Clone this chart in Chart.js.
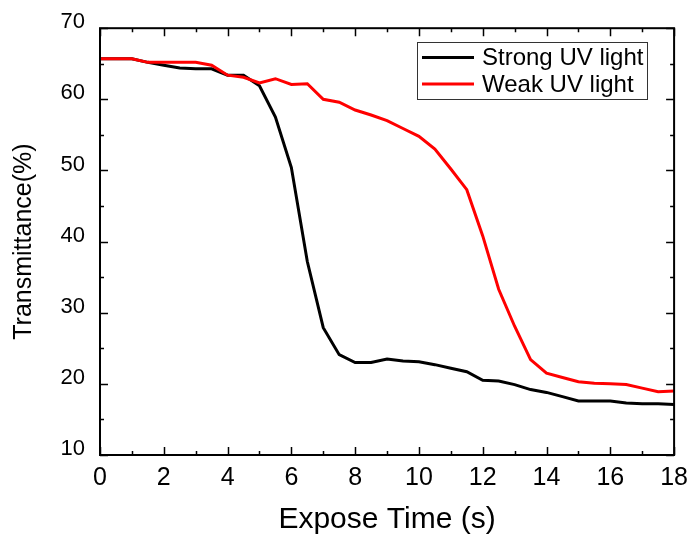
<!DOCTYPE html>
<html>
<head>
<meta charset="utf-8">
<script src="https://cdn.jsdelivr.net/npm/chart.js@4"></script>
<style>
  html, body { margin: 0; padding: 0; background: #fff; }
  #wrap { width: 696px; height: 536px; }
</style>
</head>
<body>
<div id="wrap"><canvas id="chart" width="696" height="536"></canvas></div>
<script>
// exposure times (s)
const times = [0, 0.5, 1, 1.5, 2, 2.5, 3, 3.5, 4, 4.5, 5, 5.5, 6, 6.5, 7, 7.5, 8, 8.5, 9,
    9.5, 10, 10.5, 11, 11.5, 12, 12.5, 13, 13.5, 14, 14.5, 15, 15.5, 16, 16.5, 17, 17.5, 18];

const strongUV = [65.7, 65.7, 65.7, 65.2, 64.8, 64.4, 64.3, 64.3, 63.4, 63.4, 61.9, 57.5, 50.4, 37.2, 27.9, 24.1, 23.0, 23.0, 23.5,
    23.2, 23.1, 22.7, 22.2, 21.7, 20.5, 20.4, 19.9, 19.2, 18.8, 18.2, 17.6, 17.6, 17.6, 17.3, 17.2, 17.2, 17.1];

const weakUV = [65.7, 65.7, 65.7, 65.2, 65.2, 65.2, 65.2, 64.8, 63.4, 63.1, 62.3, 62.9, 62.1, 62.2, 60.0, 59.6, 58.5, 57.8, 57.0,
    55.9, 54.8, 53.0, 50.2, 47.3, 40.8, 33.3, 28.1, 23.4, 21.5, 20.9, 20.3, 20.1, 20.0, 19.9, 19.4, 18.9, 19.0];

const seriesNames = ["Strong UV light", "Weak UV light"];
const seriesColors = ["#000000", "#ff0000"];

const xMajor = 2, xMinor = 1;
const yMajor = 10, yMinor = 5;

const FONT = "'Liberation Sans', Arial, sans-serif";

function toPoints(values) {
    return times.map((t, i) => ({ x: t, y: values[i] }));
}

// frame, inward ticks on all four sides, and the boxed legend
const framePlugin = {
    id: 'frame',
    afterDraw(chart) {
        const ctx = chart.ctx;
        const area = chart.chartArea;
        const xs = chart.scales.x;
        const ys = chart.scales.y;

        ctx.save();
        ctx.strokeStyle = '#000';
        ctx.lineWidth = 2;
        ctx.strokeRect(area.left, area.top, area.right - area.left, area.bottom - area.top);

        ctx.lineWidth = 1.5;
        ctx.beginPath();
        for (let v = xs.min; v <= xs.max; v += xMinor) {
            const px = Math.round(xs.getPixelForValue(v)) + 0.5;
            const len = (v % xMajor === 0) ? 8 : 4;
            ctx.moveTo(px, area.bottom);
            ctx.lineTo(px, area.bottom - len);
            ctx.moveTo(px, area.top);
            ctx.lineTo(px, area.top + len);
        }
        for (let v = ys.min; v <= ys.max; v += yMinor) {
            const py = Math.round(ys.getPixelForValue(v)) + 0.5;
            const len = (v % yMajor === 0) ? 8 : 4;
            ctx.moveTo(area.left, py);
            ctx.lineTo(area.left + len, py);
            ctx.moveTo(area.right, py);
            ctx.lineTo(area.right - len, py);
        }
        ctx.stroke();

        // legend
        const lx = 417, ly = 42, lw = 230, lh = 57;
        ctx.lineWidth = 1;
        ctx.strokeStyle = '#333';
        ctx.fillStyle = '#fff';
        ctx.fillRect(lx, ly, lw, lh);
        ctx.strokeRect(lx + 0.5, ly + 0.5, lw, lh);

        ctx.font = '24px ' + FONT;
        ctx.textBaseline = 'middle';
        ctx.textAlign = 'left';
        const rows = [57.5, 84];
        seriesNames.forEach((name, i) => {
            ctx.strokeStyle = seriesColors[i];
            ctx.lineWidth = 3;
            ctx.beginPath();
            ctx.moveTo(422, rows[i]);
            ctx.lineTo(474, rows[i]);
            ctx.stroke();
            ctx.fillStyle = '#000';
            ctx.fillText(name, 482, rows[i] + 1);
        });
        ctx.restore();
    }
};

const ctx = document.getElementById('chart').getContext('2d');

new Chart(ctx, {
    type: 'scatter',
    data: {
        datasets: [
            {
                label: seriesNames[0],
                data: toPoints(strongUV),
                showLine: true,
                borderColor: seriesColors[0],
                backgroundColor: seriesColors[0],
                borderWidth: 3,
                pointRadius: 0,
                tension: 0,
                order: 1
            },
            {
                label: seriesNames[1],
                data: toPoints(weakUV),
                showLine: true,
                borderColor: seriesColors[1],
                backgroundColor: seriesColors[1],
                borderWidth: 3,
                pointRadius: 0,
                tension: 0,
                order: 0
            }
        ]
    },
    options: {
        responsive: false,
        animation: false,
        events: [],
        layout: { padding: { left: 0, top: 28, right: 20, bottom: 0 } },
        plugins: {
            legend: { display: false },
            tooltip: { enabled: false }
        },
        scales: {
            x: {
                type: 'linear',
                min: 0,
                max: 18,
                afterFit(scale) { scale.height = 81; },
                grid: { display: false, drawTicks: false },
                border: { display: false },
                ticks: {
                    stepSize: xMajor,
                    padding: 8,
                    color: '#000',
                    font: { family: FONT, size: 25 },
                    maxRotation: 0
                },
                title: {
                    display: true,
                    text: 'Expose Time (s)',
                    color: '#000',
                    font: { family: FONT, size: 30 },
                    padding: { top: 0, bottom: -2 }
                }
            },
            y: {
                type: 'linear',
                min: 10,
                max: 70,
                afterFit(scale) { scale.width = 100; },
                grid: { display: false, drawTicks: false },
                border: { display: false },
                ticks: {
                    stepSize: yMajor,
                    padding: 15,
                    labelOffset: -6,
                    color: '#000',
                    font: { family: FONT, size: 22 }
                },
                title: {
                    display: true,
                    text: 'Transmittance(%)',
                    color: '#000',
                    font: { family: FONT, size: 25 },
                    padding: { top: 9, bottom: 0 }
                }
            }
        }
    },
    plugins: [framePlugin]
});
</script>
</body>
</html>
